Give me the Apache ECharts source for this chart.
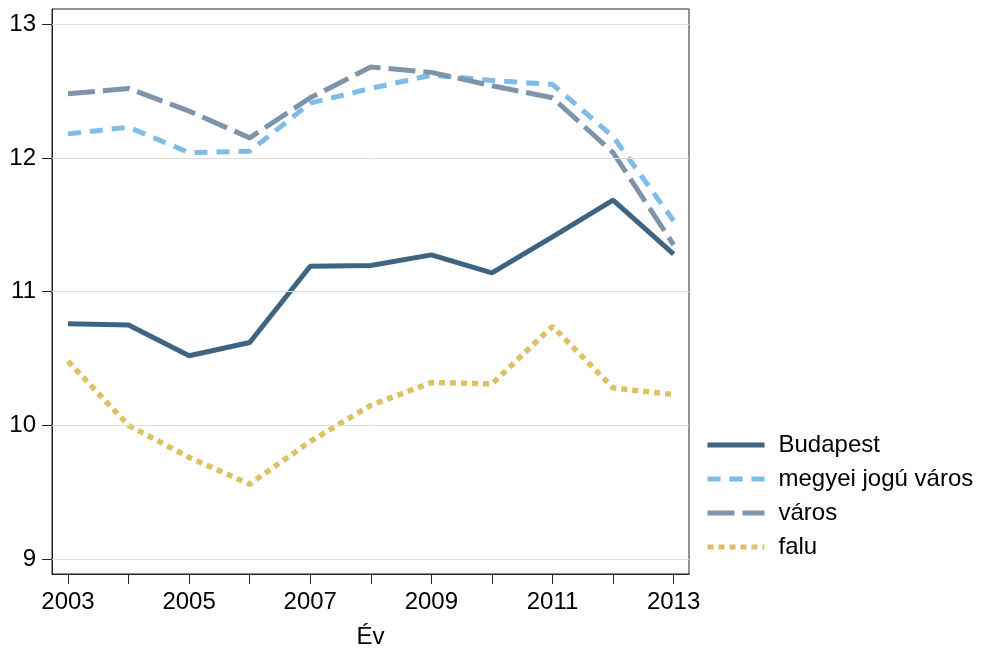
<!DOCTYPE html>
<html>
<head>
<meta charset="utf-8">
<script src="https://cdn.jsdelivr.net/npm/echarts@6/dist/echarts.min.js"></script>
<style>html,body{margin:0;padding:0;background:#fff}#c{width:987px;height:654px}</style>
</head>
<body>
<div id="c"></div>
<script>
const years = [2003,2004,2005,2006,2007,2008,2009,2010,2011,2012,2013];
const xLabelYears = [2003,2005,2007,2009,2011,2013];
const yTicks = [9,10,11,12,13];
const budapest = [10.76,10.75,10.52,10.62,11.19,11.195,11.275,11.14,11.41,11.685,11.28];
const megyei = [12.18,12.23,12.04,12.05,12.41,12.52,12.62,12.58,12.55,12.16,11.53];
const varos = [12.48,12.52,12.35,12.15,12.45,12.68,12.64,12.54,12.45,12.04,11.35];
const falu = [10.48,10.0,9.76,9.56,9.88,10.15,10.32,10.31,10.74,10.28,10.23];
const names = ['Budapest','megyei jogú város','város','falu'];

const pair = arr => years.map((y,i)=>[y,arr[i]]);
const font = 'Liberation Sans, Arial, Helvetica, sans-serif';
const chart = echarts.init(document.getElementById('c'));
chart.setOption({
  animation:false,
  backgroundColor:'#fff',
  grid:{left:52,right:298,top:9,bottom:77,show:true,borderColor:'#222',borderWidth:1,backgroundColor:'transparent'},
  legend:{
    orient:'vertical', left:705, top:433, itemWidth:57, itemHeight:14, itemGap:10, padding:0,
    data:names,
    itemStyle:{color:'transparent',borderWidth:0,opacity:0},
    lineStyle:{width:5},
    textStyle:{fontFamily:font,fontSize:24,color:'#000',padding:[0,0,0,9]}
  },
  xAxis:{
    type:'value', min:2002.736, max:2013.254,
    name:'Év', nameLocation:'middle', nameGap:51,
    nameTextStyle:{fontFamily:font,fontSize:24,color:'#000'},
    axisLine:{show:true,lineStyle:{color:'#222',width:1}},
    axisTick:{show:true,length:10,customValues:years,lineStyle:{color:'#222',width:1}},
    axisLabel:{customValues:xLabelYears,margin:16,fontFamily:font,fontSize:24,color:'#000',formatter:v=>String(v)},
    splitLine:{show:false}
  },
  yAxis:{
    type:'value', min:8.888, max:13.114,
    axisLine:{show:true,lineStyle:{color:'#222',width:1}},
    axisTick:{show:true,length:10,customValues:yTicks,lineStyle:{color:'#222',width:1}},
    axisLabel:{customValues:yTicks,margin:16,fontFamily:font,fontSize:24,color:'#000',formatter:v=>String(v)},
    splitLine:{show:false}
  },
  series:[
    {type:'line',name:'_grid',data:[],z:1,silent:true,
     markLine:{silent:true,symbol:'none',label:{show:false},animation:false,
       lineStyle:{color:'#dedede',width:1,type:'solid'},
       data:yTicks.map(v=>({yAxis:v}))}},
    {type:'line',name:names[0],data:pair(budapest),symbol:'none',z:3,
     lineStyle:{color:'#3e6481',width:5,type:'solid'},itemStyle:{color:'#3e6481'}},
    {type:'line',name:names[1],data:pair(megyei),symbol:'none',z:3,
     lineStyle:{color:'#7fbde8',width:5,type:[13,9]},itemStyle:{color:'#7fbde8'}},
    {type:'line',name:names[2],data:pair(varos),symbol:'none',z:3,
     lineStyle:{color:'#7d94ab',width:5,type:[27,8]},itemStyle:{color:'#7d94ab'}},
    {type:'line',name:names[3],data:pair(falu),symbol:'none',z:3,
     lineStyle:{color:'#dcc265',width:5.5,type:[6,5]},itemStyle:{color:'#dcc265'}}
  ]
});
</script>
</body>
</html>
